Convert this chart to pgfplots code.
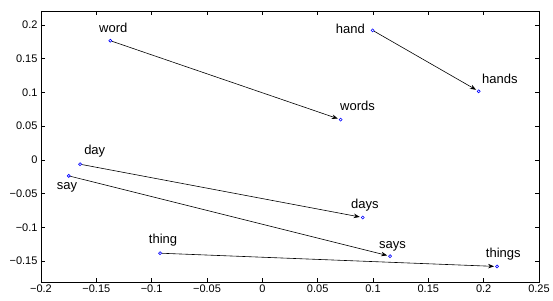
\documentclass[border=0pt]{standalone}
\usepackage{fontspec}
\setmainfont{Liberation Sans}
\usepackage{pgfplots}
\pgfplotsset{compat=1.18}
\usetikzlibrary{arrows.meta}
\begin{document}
\begin{tikzpicture}
\useasboundingbox (-41pt,-18pt) rectangle (512pt,282pt);
\begin{axis}[
  at={(0,0)}, anchor=south west,
  scale only axis, width=498pt, height=271pt,
  xmin=-0.2, xmax=0.25, ymin=-0.181, ymax=0.2207,
  xtick={-0.2,-0.15,-0.1,-0.05,0,0.05,0.1,0.15,0.2,0.25},
  xticklabels={−0.2,−0.15,−0.1,−0.05,0,0.05,0.1,0.15,0.2,0.25},
  ytick={-0.15,-0.1,-0.05,0,0.05,0.1,0.15,0.2},
  yticklabels={−0.15,−0.1,−0.05,0,0.05,0.1,0.15,0.2},
  tick align=inside, tick pos=both,
  major tick length=4pt,
  tick style={black, line width=0.5pt},
  axis line style={black, line width=0.6pt},
  ticklabel style={font=\fontsize{11}{13}\selectfont},
  xticklabel style={yshift=1pt},
  clip=false,
]
% arrows
\pgfplotsset{arr/.style={black, line width=0.6pt, -{Stealth[length=6pt,width=4.5pt]}, shorten >=3pt, shorten <=1.5pt, forget plot}}
\addplot[arr] coordinates {(-0.1374,0.1767) (0.0708,0.0597)};
\addplot[arr] coordinates {(0.0997,0.1920) (0.1955,0.1017)};
\addplot[arr] coordinates {(-0.1647,-0.0064) (0.0907,-0.0854)};
\addplot[arr] coordinates {(-0.1749,-0.0237) (0.1154,-0.1427)};
\addplot[arr] coordinates {(-0.0924,-0.1383) (0.2121,-0.1580)};
% points
\addplot[only marks, mark=o, mark size=1.5pt, blue, mark options={line width=0.6pt}] coordinates {
(-0.1374,0.1767) (0.0708,0.0597) (0.0997,0.1920) (0.1955,0.1017)
(-0.1647,-0.0064) (0.0907,-0.0854) (-0.1749,-0.0237) (0.1154,-0.1427)
(-0.0924,-0.1383) (0.2121,-0.1580)};
% labels
\tikzset{lab/.style={inner sep=0pt, font=\fontsize{13}{15}\selectfont}}
\node[lab, anchor=base west, xshift=-11.3pt, yshift=8.4pt] at (axis cs:-0.1374,0.1767) {word};
\node[lab, anchor=base west, xshift=-0.7pt, yshift=8.7pt] at (axis cs:0.0708,0.0597) {words};
\node[lab, anchor=base east, xshift=-7.7pt, yshift=-3pt] at (axis cs:0.0997,0.1920) {hand};
\node[lab, anchor=base west, xshift=3.3pt, yshift=7.3pt] at (axis cs:0.1955,0.1017) {hands};
\node[lab, anchor=base west, xshift=4pt, yshift=9.3pt] at (axis cs:-0.1647,-0.0064) {day};
\node[lab, anchor=base west, xshift=-12pt, yshift=-13.3pt] at (axis cs:-0.1749,-0.0237) {say};
\node[lab, anchor=base west, xshift=-11.3pt, yshift=9.3pt] at (axis cs:-0.0924,-0.1383) {thing};
\node[lab, anchor=base west, xshift=-11.7pt, yshift=8.7pt] at (axis cs:0.0907,-0.0854) {days};
\node[lab, anchor=base west, xshift=-11pt, yshift=8pt] at (axis cs:0.1154,-0.1427) {says};
\node[lab, anchor=base west, xshift=-11.3pt, yshift=8.7pt] at (axis cs:0.2121,-0.1580) {things};
\end{axis}
\end{tikzpicture}
\end{document}
